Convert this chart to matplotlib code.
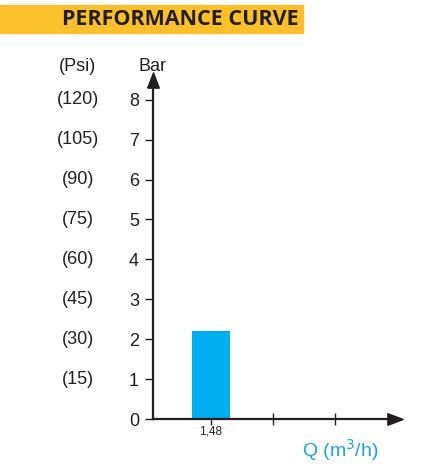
import matplotlib.pyplot as plt
from matplotlib.patches import Rectangle

# data
bar_values = [0, 1, 2, 3, 4, 5, 6, 7, 8]
psi_values = ['(15)', '(30)', '(45)', '(60)', '(75)', '(90)', '(105)', '(120)']
q_ticks = [1, 2, 3]
q_labels = ['1,48', '', '']
flow_x = [1]
pressure = [2.2]

plt.rcParams['font.family'] = ['Liberation Sans', 'DejaVu Sans']

W, H = 439, 470
fig = plt.figure(figsize=(W / 100, H / 100), dpi=100)

# yellow title banner
fig.patches.append(Rectangle((0, (470 - 33) / H), 303 / W, 28 / H,
                             transform=fig.transFigure, color='#fcbf2c', zorder=0))
fig.text(180 / W, 1 - 19.5 / H, 'PERFORMANCE CURVE', ha='center', va='center',
         fontsize=15.5, fontweight='bold', family='Open Sans', color='#231f20')

# axes box: x from 153 to 387 px, y from 419 up to 87 px
ax = fig.add_axes([153 / W, (470 - 419) / H, (387 - 153) / W, (419 - 87) / H])
ax.bar(flow_x, pressure, width=0.62, color='#00aeef', zorder=2)

ax.set_xlim(0.065, 3.84)
ax.set_ylim(0, 8.32)
for s in ['top', 'right']:
    ax.spines[s].set_visible(False)
for s in ['left', 'bottom']:
    ax.spines[s].set_linewidth(1.6)
    ax.spines[s].set_color('#231f20')

up = [(-0.38, -0.5), (0.38, -0.5), (0, 0.5), (-0.38, -0.5)]
right = [(-0.5, -0.38), (-0.5, 0.38), (0.5, 0), (-0.5, -0.38)]
ax.plot(0, 1 + 7 / 332, marker=up, color='#231f20', markersize=11, transform=ax.transAxes, clip_on=False)
ax.plot(1 + 8 / 234, 0, marker=right, color='#231f20', markersize=11, transform=ax.transAxes, clip_on=False)

ax.set_yticks(bar_values)
ax.tick_params(axis='y', direction='out', length=6, width=1, color='#231f20',
               labelsize=13, labelcolor='#231f20', pad=4)
ax.set_xticks(q_ticks)
ax.set_xticklabels(q_labels)
ax.tick_params(axis='x', direction='inout', length=8, width=1, color='#231f20',
               labelsize=8.5, labelcolor='#231f20', pad=1)

# psi labels beside the bar ticks
for v, lab in zip(bar_values[1:], psi_values):
    ax.text(-75 / 234, v, lab, transform=ax.get_yaxis_transform(), ha='center', va='center',
            fontsize=13, color='#231f20')
ax.text(-75 / 234, 1 + 21 / 332, '(Psi)', transform=ax.transAxes, ha='center', va='center',
        fontsize=13, color='#231f20')
ax.text(0.0, 1 + 21 / 332, 'Bar', transform=ax.transAxes, ha='center', va='center',
        fontsize=13, color='#231f20')
ax.text(187 / 234, -31 / 332, 'Q (m$^3$/h)', transform=ax.transAxes, ha='center', va='center',
        fontsize=14, color='#1aa3dd')

fig.savefig('out.png', dpi=100)
